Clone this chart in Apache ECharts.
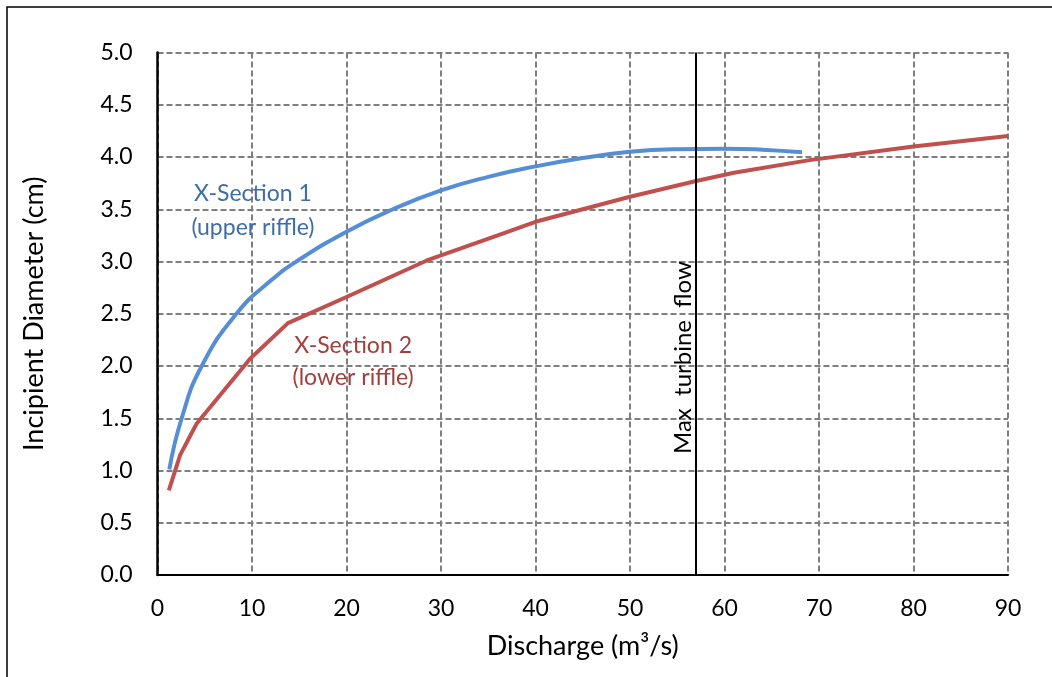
<!DOCTYPE html>
<html>
<head>
<meta charset="utf-8">
<script src="https://cdn.jsdelivr.net/npm/echarts@6/dist/echarts.min.js"></script>
<style>
  html, body { margin: 0; padding: 0; background: #fff; }
  #chart { width: 1052px; height: 677px; }
</style>
</head>
<body>
<div id="chart"></div>
<script>
// discharge (m3/s) vs incipient diameter (cm)
const section1 = [
  [1.25, 1.01], [2.56, 1.5], [4.68, 2.0], [8.44, 2.51],
  [11.9, 2.81], [14.7, 3.0], [20, 3.285], [24.9, 3.5], [30, 3.68],
  [35, 3.81], [40, 3.91], [45, 3.99], [50, 4.05], [55, 4.075],
  [60, 4.08], [64, 4.07], [68.2, 4.045]
]
const section2 = [
  [1.2, 0.81], [2.4, 1.15], [4.15, 1.45], [9.8, 2.07], [13.8, 2.41],
  [20, 2.66], [28.5, 3.01], [36, 3.25], [40, 3.38], [50, 3.62],
  [57, 3.77], [61, 3.85], [69, 3.97], [80, 4.10], [90, 4.20]
]
const maxTurbineFlow = 57
const xTicks = [0, 10, 20, 30, 40, 50, 60, 70, 80, 90]
const yTicks = [0, 0.5, 1, 1.5, 2, 2.5, 3, 3.5, 4, 4.5, 5]

const FONT = 'Lato'
const gridLine = { show: true, lineStyle: { color: '#7F7F7F', width: 2, type: [6, 3] } }
const hiddenMark = { symbol: 'circle', symbolSize: 1, silent: true, itemStyle: { color: 'rgba(0,0,0,0)' } }

const chart = echarts.init(document.getElementById('chart'))

chart.setOption({
  animation: false,
  textStyle: { fontFamily: FONT },
  grid: { left: 157.5, right: 44, top: 52.5, bottom: 102 },
  graphic: [{
    type: 'rect',
    shape: { x: 7, y: 7, width: 1100, height: 700 },
    style: { fill: 'none', stroke: '#000', lineWidth: 1.5 },
    silent: true
  }],
  xAxis: {
    type: 'value',
    min: xTicks[0],
    max: xTicks[xTicks.length - 1],
    interval: 10,
    name: 'Discharge (m³/s)',
    nameLocation: 'middle',
    nameGap: 58,
    nameTextStyle: { fontSize: 27, color: '#000', fontFamily: FONT },
    axisLine: { lineStyle: { color: '#000', width: 2 } },
    axisTick: { show: false },
    axisLabel: { fontSize: 23, color: '#000', margin: 22 },
    splitLine: gridLine
  },
  yAxis: {
    type: 'value',
    min: yTicks[0],
    max: yTicks[yTicks.length - 1],
    interval: 0.5,
    name: 'Incipient Diameter (cm)',
    nameLocation: 'middle',
    nameGap: 110,
    nameTextStyle: { fontSize: 27, color: '#000', fontFamily: FONT },
    axisLine: { show: true, lineStyle: { color: '#000', width: 2.5 } },
    axisTick: { show: false },
    axisLabel: { fontSize: 23, color: '#000', margin: 25, formatter: v => v.toFixed(1) },
    splitLine: gridLine
  },
  series: [
    {
      name: 'X-Section 1',
      type: 'line',
      data: section1,
      smooth: 0.5,
      symbol: 'none',
      lineStyle: { color: '#558ED5', width: 4 },
      markPoint: Object.assign({}, hiddenMark, {
        data: [{ coord: [10.1, 3.49] }],
        label: {
          show: true,
          position: 'inside',
          formatter: 'X-Section 1\n(upper riffle)',
          color: '#3F6DA8',
          fontSize: 23,
          lineHeight: 34,
          align: 'center'
        }
      })
    },
    {
      name: 'X-Section 2',
      type: 'line',
      data: section2,
      symbol: 'none',
      lineStyle: { color: '#C0504D', width: 4 },
      markPoint: Object.assign({}, hiddenMark, {
        data: [{ coord: [20.7, 2.04] }],
        label: {
          show: true,
          position: 'inside',
          formatter: 'X-Section 2\n(lower riffle)',
          color: '#A33E3C',
          fontSize: 23,
          lineHeight: 32,
          align: 'center'
        }
      })
    },
    {
      name: 'Max turbine flow',
      type: 'line',
      data: [],
      markLine: {
        symbol: 'none',
        silent: true,
        label: { show: false },
        lineStyle: { color: '#000', width: 2, type: 'solid' },
        data: [{ xAxis: maxTurbineFlow }]
      },
      markPoint: Object.assign({}, hiddenMark, {
        data: [{ coord: [55.6, 2.08] }],
        label: {
          show: true,
          position: 'inside',
          rotate: 90,
          formatter: 'Max  turbine  flow',
          color: '#000',
          fontSize: 24
        }
      })
    }
  ]
})
</script>
</body>
</html>
